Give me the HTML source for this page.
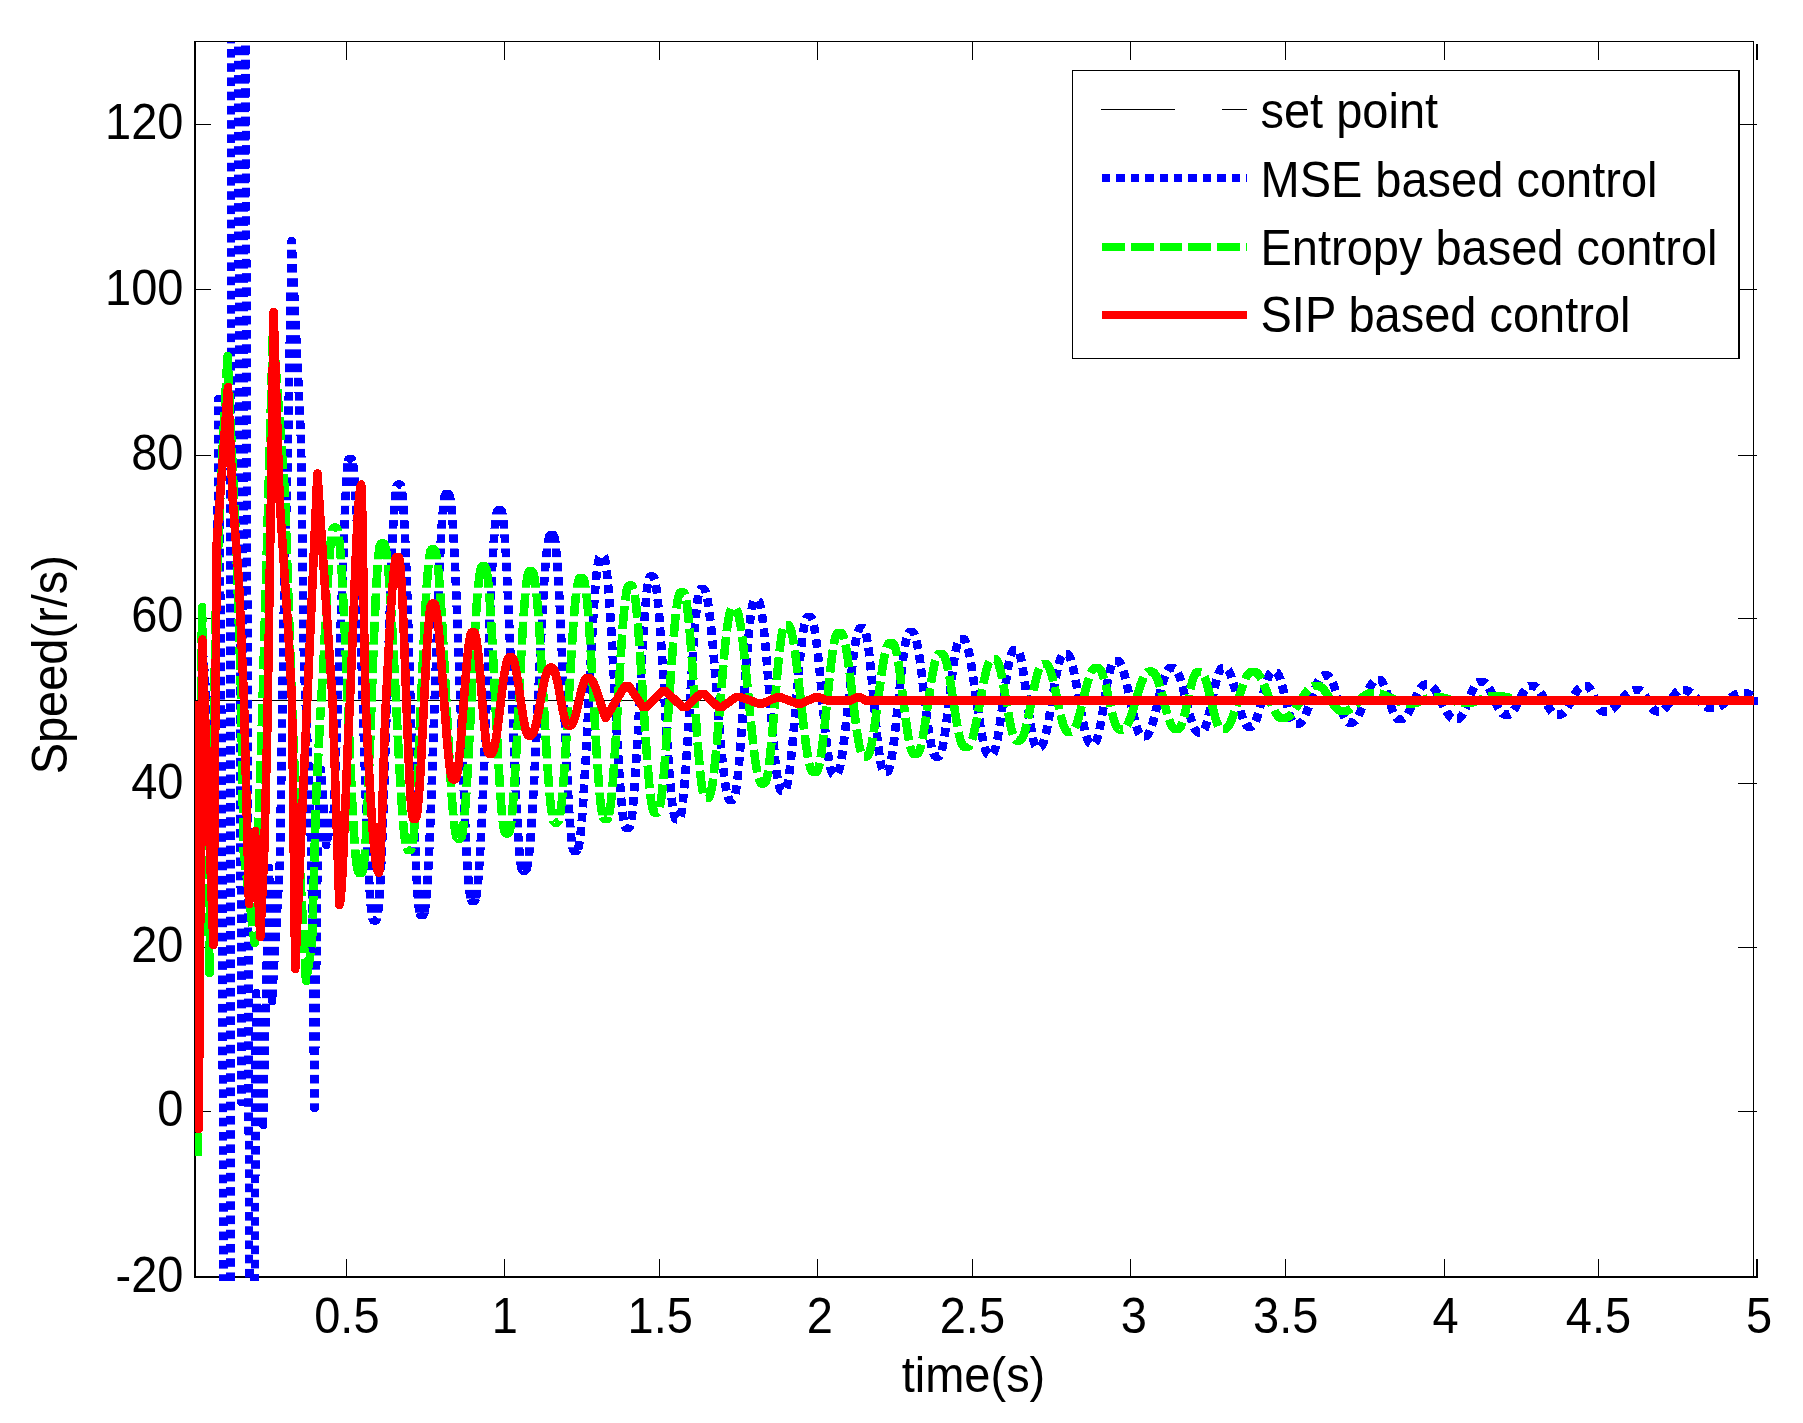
<!DOCTYPE html>
<html lang="en"><head><meta charset="utf-8"><title>Speed response</title>
<style>html,body{margin:0;padding:0;background:#fff}svg{display:block}</style></head>
<body>
<svg width="1803" height="1423" viewBox="0 0 1803 1423">
<defs><clipPath id="ax"><rect x="195" y="42" width="1559" height="1239"/></clipPath>
<clipPath id="bh"><rect x="0" y="7.92" width="1803" height="8.6"/><rect x="0" y="22.15" width="1803" height="8.6"/><rect x="0" y="36.37" width="1803" height="8.6"/><rect x="0" y="50.60" width="1803" height="8.6"/><rect x="0" y="64.83" width="1803" height="8.6"/><rect x="0" y="79.05" width="1803" height="8.6"/><rect x="0" y="93.28" width="1803" height="8.6"/><rect x="0" y="107.50" width="1803" height="8.6"/><rect x="0" y="121.73" width="1803" height="8.6"/><rect x="0" y="135.96" width="1803" height="8.6"/><rect x="0" y="150.18" width="1803" height="8.6"/><rect x="0" y="164.41" width="1803" height="8.6"/><rect x="0" y="178.63" width="1803" height="8.6"/><rect x="0" y="192.86" width="1803" height="8.6"/><rect x="0" y="207.09" width="1803" height="8.6"/><rect x="0" y="221.31" width="1803" height="8.6"/><rect x="0" y="235.54" width="1803" height="8.6"/><rect x="0" y="249.76" width="1803" height="8.6"/><rect x="0" y="263.99" width="1803" height="8.6"/><rect x="0" y="278.22" width="1803" height="8.6"/><rect x="0" y="292.44" width="1803" height="8.6"/><rect x="0" y="306.67" width="1803" height="8.6"/><rect x="0" y="320.89" width="1803" height="8.6"/><rect x="0" y="335.12" width="1803" height="8.6"/><rect x="0" y="349.35" width="1803" height="8.6"/><rect x="0" y="363.57" width="1803" height="8.6"/><rect x="0" y="377.80" width="1803" height="8.6"/><rect x="0" y="392.02" width="1803" height="8.6"/><rect x="0" y="406.25" width="1803" height="8.6"/><rect x="0" y="420.48" width="1803" height="8.6"/><rect x="0" y="434.70" width="1803" height="8.6"/><rect x="0" y="448.93" width="1803" height="8.6"/><rect x="0" y="463.15" width="1803" height="8.6"/><rect x="0" y="477.38" width="1803" height="8.6"/><rect x="0" y="491.61" width="1803" height="8.6"/><rect x="0" y="505.83" width="1803" height="8.6"/><rect x="0" y="520.06" width="1803" height="8.6"/><rect x="0" y="534.28" width="1803" height="8.6"/><rect x="0" y="548.51" width="1803" height="8.6"/><rect x="0" y="562.74" width="1803" height="8.6"/><rect x="0" y="576.96" width="1803" height="8.6"/><rect x="0" y="591.19" width="1803" height="8.6"/><rect x="0" y="605.41" width="1803" height="8.6"/><rect x="0" y="619.64" width="1803" height="8.6"/><rect x="0" y="633.87" width="1803" height="8.6"/><rect x="0" y="648.09" width="1803" height="8.6"/><rect x="0" y="662.32" width="1803" height="8.6"/><rect x="0" y="676.54" width="1803" height="8.6"/><rect x="0" y="690.77" width="1803" height="8.6"/><rect x="0" y="705.00" width="1803" height="8.6"/><rect x="0" y="719.22" width="1803" height="8.6"/><rect x="0" y="733.45" width="1803" height="8.6"/><rect x="0" y="747.67" width="1803" height="8.6"/><rect x="0" y="761.90" width="1803" height="8.6"/><rect x="0" y="776.13" width="1803" height="8.6"/><rect x="0" y="790.35" width="1803" height="8.6"/><rect x="0" y="804.58" width="1803" height="8.6"/><rect x="0" y="818.80" width="1803" height="8.6"/><rect x="0" y="833.03" width="1803" height="8.6"/><rect x="0" y="847.26" width="1803" height="8.6"/><rect x="0" y="861.48" width="1803" height="8.6"/><rect x="0" y="875.71" width="1803" height="8.6"/><rect x="0" y="889.93" width="1803" height="8.6"/><rect x="0" y="904.16" width="1803" height="8.6"/><rect x="0" y="918.39" width="1803" height="8.6"/><rect x="0" y="932.61" width="1803" height="8.6"/><rect x="0" y="946.84" width="1803" height="8.6"/><rect x="0" y="961.06" width="1803" height="8.6"/><rect x="0" y="975.29" width="1803" height="8.6"/><rect x="0" y="989.52" width="1803" height="8.6"/><rect x="0" y="1003.74" width="1803" height="8.6"/><rect x="0" y="1017.97" width="1803" height="8.6"/><rect x="0" y="1032.19" width="1803" height="8.6"/><rect x="0" y="1046.42" width="1803" height="8.6"/><rect x="0" y="1060.65" width="1803" height="8.6"/><rect x="0" y="1074.87" width="1803" height="8.6"/><rect x="0" y="1089.10" width="1803" height="8.6"/><rect x="0" y="1103.32" width="1803" height="8.6"/><rect x="0" y="1117.55" width="1803" height="8.6"/><rect x="0" y="1131.78" width="1803" height="8.6"/><rect x="0" y="1146.00" width="1803" height="8.6"/><rect x="0" y="1160.23" width="1803" height="8.6"/><rect x="0" y="1174.45" width="1803" height="8.6"/><rect x="0" y="1188.68" width="1803" height="8.6"/><rect x="0" y="1202.91" width="1803" height="8.6"/><rect x="0" y="1217.13" width="1803" height="8.6"/><rect x="0" y="1231.36" width="1803" height="8.6"/><rect x="0" y="1245.58" width="1803" height="8.6"/><rect x="0" y="1259.81" width="1803" height="8.6"/><rect x="0" y="1274.04" width="1803" height="8.6"/><rect x="0" y="1288.26" width="1803" height="8.6"/></clipPath>
<clipPath id="gh"><rect x="0" y="-4.05" width="1803" height="22.8"/><rect x="0" y="24.40" width="1803" height="22.8"/><rect x="0" y="52.85" width="1803" height="22.8"/><rect x="0" y="81.30" width="1803" height="22.8"/><rect x="0" y="109.75" width="1803" height="22.8"/><rect x="0" y="138.20" width="1803" height="22.8"/><rect x="0" y="166.65" width="1803" height="22.8"/><rect x="0" y="195.10" width="1803" height="22.8"/><rect x="0" y="223.55" width="1803" height="22.8"/><rect x="0" y="252.00" width="1803" height="22.8"/><rect x="0" y="280.45" width="1803" height="22.8"/><rect x="0" y="308.90" width="1803" height="22.8"/><rect x="0" y="337.35" width="1803" height="22.8"/><rect x="0" y="365.80" width="1803" height="22.8"/><rect x="0" y="394.25" width="1803" height="22.8"/><rect x="0" y="422.70" width="1803" height="22.8"/><rect x="0" y="451.15" width="1803" height="22.8"/><rect x="0" y="479.60" width="1803" height="22.8"/><rect x="0" y="508.05" width="1803" height="22.8"/><rect x="0" y="536.50" width="1803" height="22.8"/><rect x="0" y="564.95" width="1803" height="22.8"/><rect x="0" y="593.40" width="1803" height="22.8"/><rect x="0" y="621.85" width="1803" height="22.8"/><rect x="0" y="650.30" width="1803" height="22.8"/><rect x="0" y="678.75" width="1803" height="22.8"/><rect x="0" y="707.20" width="1803" height="22.8"/><rect x="0" y="735.65" width="1803" height="22.8"/><rect x="0" y="764.10" width="1803" height="22.8"/><rect x="0" y="792.55" width="1803" height="22.8"/><rect x="0" y="821.00" width="1803" height="22.8"/><rect x="0" y="849.45" width="1803" height="22.8"/><rect x="0" y="877.90" width="1803" height="22.8"/><rect x="0" y="906.35" width="1803" height="22.8"/><rect x="0" y="934.80" width="1803" height="22.8"/><rect x="0" y="963.25" width="1803" height="22.8"/><rect x="0" y="991.70" width="1803" height="22.8"/><rect x="0" y="1020.15" width="1803" height="22.8"/><rect x="0" y="1048.60" width="1803" height="22.8"/><rect x="0" y="1077.05" width="1803" height="22.8"/><rect x="0" y="1105.50" width="1803" height="22.8"/><rect x="0" y="1133.95" width="1803" height="22.8"/><rect x="0" y="1162.40" width="1803" height="22.8"/><rect x="0" y="1190.85" width="1803" height="22.8"/><rect x="0" y="1219.30" width="1803" height="22.8"/><rect x="0" y="1247.75" width="1803" height="22.8"/><rect x="0" y="1276.20" width="1803" height="22.8"/></clipPath>
</defs>
<rect x="0" y="0" width="1803" height="1423" fill="#fff"/>
<g stroke="#000" fill="none" shape-rendering="crispEdges">
<line x1="195" y1="41" x2="195" y2="1278" stroke-width="2"/>
<line x1="194" y1="41.5" x2="1754" y2="41.5" stroke-width="1"/>
<line x1="1753.5" y1="41" x2="1753.5" y2="1278" stroke-width="1"/>
<line x1="194" y1="1277" x2="1758" y2="1277" stroke-width="2"/>
<line x1="346.5" y1="1259" x2="346.5" y2="1277" stroke-width="1"/>
<line x1="346.5" y1="42" x2="346.5" y2="60" stroke-width="1"/>
<line x1="504.5" y1="1259" x2="504.5" y2="1277" stroke-width="1"/>
<line x1="504.5" y1="42" x2="504.5" y2="60" stroke-width="1"/>
<line x1="659.5" y1="1259" x2="659.5" y2="1277" stroke-width="1"/>
<line x1="659.5" y1="42" x2="659.5" y2="60" stroke-width="1"/>
<line x1="817.5" y1="1259" x2="817.5" y2="1277" stroke-width="1"/>
<line x1="817.5" y1="42" x2="817.5" y2="60" stroke-width="1"/>
<line x1="972.5" y1="1259" x2="972.5" y2="1277" stroke-width="1"/>
<line x1="972.5" y1="42" x2="972.5" y2="60" stroke-width="1"/>
<line x1="1130.5" y1="1259" x2="1130.5" y2="1277" stroke-width="1"/>
<line x1="1130.5" y1="42" x2="1130.5" y2="60" stroke-width="1"/>
<line x1="1285.5" y1="1259" x2="1285.5" y2="1277" stroke-width="1"/>
<line x1="1285.5" y1="42" x2="1285.5" y2="60" stroke-width="1"/>
<line x1="1444.5" y1="1259" x2="1444.5" y2="1277" stroke-width="1"/>
<line x1="1444.5" y1="42" x2="1444.5" y2="60" stroke-width="1"/>
<line x1="1598.5" y1="1259" x2="1598.5" y2="1277" stroke-width="1"/>
<line x1="1598.5" y1="42" x2="1598.5" y2="60" stroke-width="1"/>
<line x1="1757" y1="1259" x2="1757" y2="1277" stroke-width="2"/>
<line x1="1757" y1="44" x2="1757" y2="60" stroke-width="2"/>
<line x1="196" y1="124.5" x2="211" y2="124.5" stroke-width="1"/>
<line x1="1738" y1="124.5" x2="1757" y2="124.5" stroke-width="1"/>
<line x1="196" y1="289.5" x2="211" y2="289.5" stroke-width="1"/>
<line x1="1738" y1="289.5" x2="1757" y2="289.5" stroke-width="1"/>
<line x1="196" y1="455.5" x2="211" y2="455.5" stroke-width="1"/>
<line x1="1738" y1="455.5" x2="1757" y2="455.5" stroke-width="1"/>
<line x1="196" y1="618.5" x2="211" y2="618.5" stroke-width="1"/>
<line x1="1738" y1="618.5" x2="1757" y2="618.5" stroke-width="1"/>
<line x1="196" y1="783.5" x2="211" y2="783.5" stroke-width="1"/>
<line x1="1738" y1="783.5" x2="1757" y2="783.5" stroke-width="1"/>
<line x1="196" y1="947.5" x2="211" y2="947.5" stroke-width="1"/>
<line x1="1738" y1="947.5" x2="1757" y2="947.5" stroke-width="1"/>
<line x1="196" y1="1111.5" x2="211" y2="1111.5" stroke-width="1"/>
<line x1="1738" y1="1111.5" x2="1757" y2="1111.5" stroke-width="1"/>
</g>
<g clip-path="url(#ax)" fill="none" stroke-linejoin="round" shape-rendering="crispEdges">
<line x1="195" y1="700.5" x2="1757" y2="700.5" stroke="#000" stroke-width="1"/>
<path transform="translate(0,0.2)" d="M199.0,1074.8 L202.0,639.8 L211.0,759.8 L216.5,699.8 L218.5,398.8 L222.0,799.8 L223.5,1299.8" stroke="#0000ff" stroke-width="8.6" clip-path="url(#bh)"/>
<path d="M202.0,642.5 L202.0,640.0 L202.2,642.5 M210.8,757.5 L211.0,760.0 L211.2,757.5 M218.5,401.5 L218.5,399.0 L218.5,401.5" stroke="#0000ff" stroke-width="8.6"/>
<path transform="translate(0,-1.6)" d="M230.5,1301.6 L231.0,21.6" stroke="#0000ff" stroke-width="8.6" clip-path="url(#bh)"/>
<path transform="translate(0,-4.0)" d="M238.0,24.0 L241.5,1106.0 L244.8,24.0" stroke="#0000ff" stroke-width="8.6" clip-path="url(#bh)"/>
<path d="M241.5,1099.5 L241.5,1102.0 L241.5,1099.5" stroke="#0000ff" stroke-width="8.6"/>
<path transform="translate(0,-5.1)" d="M245.5,25.1 L249.3,1305.1" stroke="#0000ff" stroke-width="8.6" clip-path="url(#bh)"/>
<path d="M254.7,1300.0 L256.0,993.0 L263.0,1125.0 L269.0,868.0 L272.0,1001.0 L280.0,860.0 L284.0,600.0 L288.0,440.0 L291.7,241.0 L301.0,440.0 L304.0,664.0 L308.0,757.0 L311.3,850.0 L314.5,1108.0 L317.6,850.0 L321.0,770.0 L326.0,845.0 L334.0,811.0 L340.0,640.0 L341.0,617.9 L341.9,592.9 L342.9,566.4 L343.9,539.9 L344.8,514.8 L345.8,492.8 L346.8,475.2 L347.7,463.5 L348.7,459.3 L349.7,459.3 L350.7,459.3 L351.7,459.3 L352.7,461.6 L353.7,468.6 L354.6,480.1 L355.6,495.9 L356.6,515.6 L357.6,538.9 L358.5,565.2 L359.5,594.0 L360.5,624.9 L361.5,657.0 L362.4,689.8 L363.4,722.6 L364.4,754.7 L365.4,785.6 L366.4,814.4 L367.3,840.7 L368.3,864.0 L369.3,883.7 L370.3,899.5 L371.2,911.0 L372.2,918.0 L373.2,920.3 L374.2,920.3 L375.2,920.3 L376.2,920.3 L377.2,917.9 L378.2,910.6 L379.2,898.7 L380.3,882.4 L381.3,862.1 L382.3,838.3 L383.3,811.4 L384.3,782.0 L385.3,750.9 L386.3,718.7 L387.4,686.2 L388.4,654.0 L389.4,622.9 L390.4,593.5 L391.4,566.6 L392.4,542.8 L393.4,522.5 L394.5,506.2 L395.5,494.3 L396.5,487.0 L397.5,484.6 L398.5,484.6 L399.5,484.6 L400.5,484.6 L401.5,487.2 L402.5,495.1 L403.5,508.1 L404.5,525.7 L405.5,547.6 L406.5,573.3 L407.5,602.1 L408.5,633.3 L409.5,666.1 L410.4,699.8 L411.4,733.5 L412.4,766.3 L413.4,797.5 L414.4,826.3 L415.4,852.0 L416.4,873.9 L417.4,891.5 L418.4,904.5 L419.4,912.4 L420.4,915.0 L421.4,915.0 L422.4,915.0 L423.4,915.0 L424.4,912.9 L425.4,906.5 L426.4,896.0 L427.5,881.6 L428.5,863.6 L429.5,842.3 L430.5,818.3 L431.5,791.9 L432.5,763.8 L433.5,734.5 L434.5,704.5 L435.6,674.5 L436.6,645.2 L437.6,617.1 L438.6,590.7 L439.6,566.7 L440.6,545.4 L441.6,527.4 L442.7,513.0 L443.7,502.5 L444.7,496.1 L445.7,494.0 L446.7,494.0 L447.7,494.0 L448.7,494.0 L449.7,495.9 L450.7,501.5 L451.7,510.8 L452.7,523.6 L453.7,539.6 L454.7,558.6 L455.7,580.1 L456.7,603.9 L457.7,629.4 L458.7,656.1 L459.7,683.6 L460.8,711.4 L461.8,738.9 L462.8,765.6 L463.8,791.1 L464.8,814.9 L465.8,836.4 L466.8,855.4 L467.8,871.4 L468.8,884.2 L469.8,893.5 L470.8,899.1 L471.8,901.0 L472.8,901.0 L473.8,901.0 L474.8,901.0 L475.8,899.2 L476.8,893.8 L477.8,884.8 L478.8,872.5 L479.8,857.2 L480.9,838.9 L481.9,818.2 L482.9,795.4 L483.9,771.0 L484.9,745.3 L485.9,718.8 L486.9,692.2 L487.9,665.7 L488.9,640.0 L489.9,615.6 L490.9,592.8 L491.9,572.1 L493.0,553.8 L494.0,538.5 L495.0,526.2 L496.0,517.2 L497.0,511.8 L498.0,510.0 L499.0,510.0 L500.0,510.0 L501.0,510.0 L502.0,511.8 L503.0,517.3 L503.9,526.3 L504.9,538.6 L505.9,554.0 L506.9,572.2 L507.8,592.8 L508.8,615.4 L509.8,639.5 L510.8,664.6 L511.8,690.2 L512.7,715.9 L513.7,741.0 L514.7,765.1 L515.7,787.7 L516.6,808.3 L517.6,826.5 L518.6,841.9 L519.6,854.2 L520.5,863.2 L521.5,868.7 L522.5,870.5 L523.5,870.5 L524.5,870.5 L525.5,870.5 L526.5,869.2 L527.5,865.2 L528.5,858.7 L529.5,849.8 L530.5,838.5 L531.5,825.0 L532.4,809.7 L533.4,792.6 L534.4,774.2 L535.4,754.6 L536.4,734.2 L537.4,713.3 L538.4,692.2 L539.4,671.3 L540.4,650.9 L541.4,631.3 L542.4,612.9 L543.4,595.8 L544.3,580.5 L545.3,567.0 L546.3,555.7 L547.3,546.8 L548.3,540.3 L549.3,536.3 L550.3,535.0 L551.3,535.0 L552.3,535.0 L553.3,535.0 L554.3,536.8 L555.3,542.0 L556.2,550.6 L557.2,562.5 L558.2,577.2 L559.2,594.5 L560.2,614.0 L561.1,635.3 L562.1,657.8 L563.1,681.2 L564.1,704.8 L565.1,728.2 L566.1,750.7 L567.0,772.0 L568.0,791.5 L569.0,808.8 L570.0,823.5 L571.0,835.4 L571.9,844.0 L572.9,849.2 L573.9,851.0 L574.9,851.0 L575.9,851.0 L576.9,851.0 L577.9,849.6" stroke="#0000ff" stroke-width="8.6" clip-path="url(#bh)"/>
<path d="M256.0,995.5 L256.0,993.0 L256.1,995.5 M262.9,1122.5 L263.0,1125.0 L263.1,1122.5 M268.9,870.5 L269.0,868.0 L269.1,870.5 M271.9,998.5 L272.0,1001.0 L272.1,998.5 M291.7,243.5 L291.7,241.0 L291.8,243.5 M314.5,1105.5 L314.5,1108.0 L314.5,1105.5 M320.9,772.5 L321.0,770.0 L321.2,772.5 M325.8,842.5 L326.0,845.0 L326.6,842.6 M348.1,461.7 L348.7,459.3 L349.7,459.3 L350.7,459.3 L351.7,459.3 L352.7,461.6 M372.2,918.0 L373.2,920.3 L374.2,920.3 L375.2,920.3 L376.2,920.3 L377.2,918.0 M396.5,486.9 L397.5,484.6 L398.5,484.6 L399.5,484.6 L400.5,484.6 L401.4,486.9 M419.5,912.7 L420.4,915.0 L421.4,915.0 L422.4,915.0 L423.4,915.0 L424.4,912.9 L424.4,912.7 M444.7,496.3 L444.7,496.1 L445.7,494.0 L446.7,494.0 L447.7,494.0 L448.7,494.0 L449.7,495.9 L449.8,496.2 M470.7,898.8 L470.8,899.1 L471.8,901.0 L472.8,901.0 L473.8,901.0 L474.8,901.0 L475.8,899.2 L475.9,898.8 M496.9,512.2 L497.0,511.8 L498.0,510.0 L499.0,510.0 L500.0,510.0 L501.0,510.0 L502.0,511.8 L502.1,512.2 M521.4,868.3 L521.5,868.7 L522.5,870.5 L523.5,870.5 L524.5,870.5 L525.5,870.5 L526.5,869.2 L526.7,868.4 M549.1,537.1 L549.3,536.3 L550.3,535.0 L551.3,535.0 L552.3,535.0 L553.3,535.0 L554.3,536.8 L554.4,537.2 M572.8,848.8 L572.9,849.2 L573.9,851.0 L574.9,851.0 L575.9,851.0 L576.9,851.0 L577.9,849.6" stroke="#0000ff" stroke-width="8.6"/>
<path d="M577.9,849.6 L578.9,845.5 L580.0,838.8 L581.0,829.5 L582.0,817.9 L583.0,804.2 L584.0,788.6 L585.0,771.4 L586.1,752.9 L587.1,733.5 L588.1,713.6 L589.1,693.4 L590.1,673.5 L591.1,654.1 L592.2,635.6 L593.2,618.4 L594.2,602.8 L595.2,589.1 L596.2,577.5 L597.2,568.2 L598.3,561.5 L599.3,557.4 L600.3,556.0 L601.3,556.0 L602.3,556.0 L603.3,556.0 L604.3,557.3 L605.3,561.0 L606.3,567.3 L607.2,575.8 L608.2,586.5 L609.2,599.2 L610.2,613.6 L611.2,629.4 L612.2,646.5 L613.2,664.3 L614.2,682.7 L615.1,701.3 L616.1,719.7 L617.1,737.5 L618.1,754.6 L619.1,770.4 L620.1,784.8 L621.1,797.5 L622.1,808.2 L623.0,816.7 L624.0,823.0 L625.0,826.7 L626.0,828.0 L627.0,828.0 L628.0,828.0 L629.0,828.0 L630.0,826.6 L631.0,822.4 L632.0,815.6 L633.0,806.2 L634.0,794.4 L635.0,780.7 L636.0,765.1 L637.0,748.2 L638.0,730.3 L639.0,711.7 L640.1,692.9 L641.1,674.3 L642.1,656.4 L643.1,639.5 L644.1,623.9 L645.1,610.2 L646.1,598.4 L647.1,589.0 L648.1,582.2 L649.1,578.0 L650.1,576.6 L651.1,576.6 L652.1,576.6 L653.1,576.6 L654.1,577.7 L655.1,581.1 L656.1,586.6 L657.1,594.3 L658.1,603.8 L659.1,615.1 L660.1,628.0 L661.1,642.1 L662.1,657.3 L663.1,673.3 L664.1,689.7 L665.0,706.2 L666.0,722.6 L667.0,738.6 L668.0,753.8 L669.0,767.9 L670.0,780.8 L671.0,792.1 L672.0,801.6 L673.0,809.3 L674.0,814.8 L675.0,818.2 L676.0,819.3 L677.0,819.3 L678.0,819.3 L679.0,819.3 L680.0,818.1 L681.0,814.6 L682.0,808.9 L682.9,801.0 L683.9,791.2 L684.9,779.6 L685.9,766.4 L686.9,752.0 L687.9,736.6 L688.9,720.5 L689.9,704.1 L690.8,687.8 L691.8,671.7 L692.8,656.3 L693.8,641.9 L694.8,628.7 L695.8,617.1 L696.8,607.3 L697.7,599.4 L698.7,593.7 L699.7,590.2 L700.7,589.0 L701.7,589.0 L702.7,589.0 L703.7,589.0 L704.7,589.8 L705.7,592.1 L706.7,595.9 L707.7,601.1 L708.7,607.7 L709.7,615.5 L710.8,624.5 L711.8,634.6 L712.8,645.5 L713.8,657.1 L714.8,669.3 L715.8,681.8 L716.8,694.5 L717.8,707.2 L718.8,719.7 L719.8,731.9 L720.8,743.5 L721.8,754.4 L722.8,764.5 L723.9,773.5 L724.9,781.3 L725.9,787.9 L726.9,793.1 L727.9,796.9 L728.9,799.2 L729.9,800.0 L730.9,800.0 L731.9,800.0 L732.9,800.0 L733.9,799.0 L734.9,795.9 L735.9,791.0 L736.9,784.1 L737.9,775.6 L738.8,765.5 L739.8,754.1 L740.8,741.5 L741.8,728.2 L742.8,714.2 L743.8,700.0 L744.8,685.8 L745.8,671.8 L746.8,658.5 L747.8,645.9 L748.8,634.5 L749.7,624.4 L750.7,615.9 L751.7,609.0 L752.7,604.1 L753.7,601.0 L754.7,600.0 L755.7,600.0 L756.7,600.0 L757.7,600.0 L758.7,600.8 L759.7,603.3 L760.7,607.3 L761.7,612.8 L762.7,619.7 L763.7,628.0 L764.6,637.4 L765.6,647.8 L766.6,659.0 L767.6,670.8 L768.6,683.0 L769.6,695.5 L770.6,708.0 L771.6,720.2 L772.6,732.0 L773.6,743.2 L774.6,753.6 L775.5,763.0 L776.5,771.3 L777.5,778.2 L778.5,783.7 L779.5,787.7 L780.5,790.2 L781.5,791.0 L782.5,791.0 L783.5,791.0 L784.5,791.0 L785.5,790.2 L786.5,787.8 L787.5,783.8 L788.5,778.3 L789.5,771.5 L790.5,763.4 L791.5,754.2 L792.5,744.0 L793.5,733.1 L794.5,721.7 L795.5,709.9 L796.5,698.1 L797.5,686.3 L798.5,674.9 L799.5,664.0 L800.5,653.8 L801.5,644.6 L802.5,636.5 L803.5,629.7 L804.5,624.2 L805.5,620.2 L806.5,617.8 L807.5,617.0 L808.5,617.0 L809.5,617.0 L810.5,617.0 L811.5,617.7 L812.5,619.9 L813.5,623.5 L814.5,628.5 L815.5,634.7 L816.5,642.0 L817.5,650.3 L818.5,659.5 L819.5,669.3 L820.5,679.7 L821.5,690.3 L822.4,701.1 L823.4,711.7 L824.4,722.1 L825.4,731.9 L826.4,741.1 L827.4,749.4 L828.4,756.7 L829.4,762.9 L830.4,767.9 L831.4,771.5 L832.4,773.7 L833.4,774.4 L834.4,774.4 L835.4,774.4 L836.4,774.4 L837.4,773.8 L838.4,771.9 L839.4,768.8 L840.4,764.6 L841.4,759.3 L842.4,753.0 L843.4,745.8 L844.4,737.8 L845.4,729.2 L846.4,720.1 L847.4,710.8 L848.4,701.2 L849.4,691.6 L850.4,682.3 L851.4,673.2 L852.4,664.6 L853.4,656.6 L854.4,649.4 L855.4,643.1 L856.4,637.8 L857.4,633.6 L858.4,630.5 L859.4,628.6 L860.4,628.0 L861.4,628.0 L862.4,628.0 L863.4,628.0 L864.4,628.8 L865.4,631.2 L866.3,635.1 L867.3,640.5 L868.3,647.2 L869.3,655.1 L870.3,664.0 L871.2,673.7 L872.2,684.0 L873.2,694.6 L874.2,705.4 L875.2,716.0 L876.2,726.3 L877.1,736.0 L878.1,744.9 L879.1,752.8 L880.1,759.5 L881.1,764.9 L882.0,768.8 L883.0,771.2 L884.0,772.0 L885.0,772.0 L886.0,772.0 L887.0,772.0 L888.0,771.3 L889.0,769.2 L890.1,765.7 L891.1,760.9 L892.1,754.9 L893.1,747.8 L894.2,739.8 L895.2,731.1 L896.2,721.7 L897.2,712.0 L898.2,702.0 L899.3,692.0 L900.3,682.3 L901.3,672.9 L902.3,664.2 L903.4,656.2 L904.4,649.1 L905.4,643.1 L906.4,638.3 L907.5,634.8 L908.5,632.7 L909.5,632.0 L910.5,632.0 L911.5,632.0 L912.5,632.0 L913.5,632.6 L914.5,634.3 L915.5,637.1 L916.5,641.1 L917.5,646.0 L918.6,651.7 L919.6,658.3 L920.6,665.6 L921.6,673.4 L922.6,681.5 L923.6,690.0 L924.6,698.4 L925.6,706.9 L926.6,715.0 L927.6,722.8 L928.6,730.1 L929.6,736.7 L930.7,742.4 L931.7,747.3 L932.7,751.3 L933.7,754.1 L934.7,755.8 L935.7,756.4 L936.7,756.4 L937.7,756.4 L938.7,756.4 L939.7,755.8 L940.7,754.0 L941.6,751.1 L942.6,747.1 L943.6,742.0 L944.6,736.1 L945.5,729.4 L946.5,722.0 L947.5,714.2 L948.5,706.0 L949.5,697.6 L950.4,689.2 L951.4,681.0 L952.4,673.2 L953.4,665.8 L954.3,659.1 L955.3,653.2 L956.3,648.1 L957.3,644.1 L958.2,641.2 L959.2,639.4 L960.2,638.8 L961.2,638.8 L962.2,638.8 L963.2,638.8 L964.2,639.2 L965.2,640.5 L966.2,642.6 L967.1,645.4 L968.1,649.1 L969.1,653.4 L970.1,658.3 L971.1,663.8 L972.1,669.8 L973.0,676.2 L974.0,682.9 L975.0,689.8 L976.0,696.8 L977.0,703.7 L978.0,710.6 L979.0,717.3 L979.9,723.7 L980.9,729.7 L981.9,735.2 L982.9,740.1 L983.9,744.4 L984.9,748.1 L985.8,750.9 L986.8,753.0 L987.8,754.3 L988.8,754.7 L989.8,754.7 L990.8,754.7 L991.8,754.7 L992.8,754.2 L993.8,752.6 L994.8,750.0 L995.9,746.4 L996.9,741.9 L997.9,736.6 L998.9,730.7 L999.9,724.1 L1000.9,717.1 L1001.9,709.8 L1003.0,702.4 L1004.0,694.9 L1005.0,687.6 L1006.0,680.6 L1007.0,674.0 L1008.0,668.1 L1009.0,662.8 L1010.0,658.3 L1011.1,654.7 L1012.1,652.1 L1013.1,650.5 L1014.1,650.0 L1015.1,650.0 L1016.1,650.0 L1017.1,650.0 L1018.1,650.6 L1019.1,652.4 L1020.1,655.3 L1021.1,659.3 L1022.1,664.2 L1023.0,670.0 L1024.0,676.5 L1025.0,683.6 L1026.0,691.0 L1027.0,698.6 L1028.0,706.2 L1029.0,713.6 L1030.0,720.7 L1031.0,727.2 L1032.0,733.0 L1032.9,737.9 L1033.9,741.9 L1034.9,744.8 L1035.9,746.6 L1036.9,747.2 L1037.9,747.2 L1038.9,747.2 L1039.9,747.2 L1040.9,746.8 L1041.9,745.6 L1042.9,743.7 L1043.9,741.0 L1044.9,737.6 L1045.9,733.6 L1046.9,729.0 L1047.9,723.9 L1048.9,718.4 L1049.9,712.7 L1050.9,706.7 L1051.9,700.6 L1052.9,694.5 L1053.9,688.5 L1054.9,682.8 L1055.9,677.3 L1056.9,672.2 L1057.9,667.6 L1058.9,663.6 L1059.9,660.2 L1060.9,657.5 L1061.9,655.6 L1062.9,654.4 L1063.9,654.0 L1064.9,654.0 L1065.9,654.0 L1066.9,654.0 L1067.9,654.4 L1068.9,655.5 L1069.9,657.4 L1070.9,660.0 L1071.9,663.3 L1072.9,667.2 L1073.9,671.6 L1074.9,676.4 L1075.9,681.7 L1076.9,687.3 L1077.9,693.0 L1078.9,698.9 L1079.9,704.8 L1080.9,710.5 L1081.9,716.1 L1082.9,721.3 L1083.9,726.2 L1084.9,730.6 L1085.9,734.5 L1086.9,737.8 L1087.9,740.4 L1088.9,742.3 L1089.9,743.4 L1090.9,743.8 L1091.9,743.8 L1092.9,743.8 L1093.9,743.8 L1094.9,743.3 L1095.9,742.0 L1096.8,739.7 L1097.8,736.6 L1098.8,732.7 L1099.8,728.2 L1100.8,723.1 L1101.7,717.5 L1102.7,711.6 L1103.7,705.5 L1104.7,699.3 L1105.7,693.2 L1106.7,687.3 L1107.6,681.7 L1108.6,676.6 L1109.6,672.1 L1110.6,668.2 L1111.6,665.1 L1112.5,662.8 L1113.5,661.5 L1114.5,661.0 L1115.5,661.0 L1116.5,661.0 L1117.5,661.0 L1118.5,661.3 L1119.5,662.2 L1120.5,663.6 L1121.5,665.7 L1122.5,668.2 L1123.5,671.2 L1124.4,674.6 L1125.4,678.5 L1126.4,682.6 L1127.4,687.0 L1128.4,691.6 L1129.4,696.2 L1130.4,701.0 L1131.4,705.6 L1132.4,710.2 L1133.4,714.6 L1134.4,718.7 L1135.4,722.6 L1136.3,726.0 L1137.3,729.0 L1138.3,731.5 L1139.3,733.6 L1140.3,735.0 L1141.3,735.9 L1142.3,736.2 L1143.3,736.2 L1144.3,736.2 L1145.3,736.2 L1146.3,735.9 L1147.3,735.1 L1148.3,733.8 L1149.3,732.0 L1150.3,729.7 L1151.3,727.0 L1152.4,723.8 L1153.4,720.4 L1154.4,716.6 L1155.4,712.6 L1156.4,708.5 L1157.4,704.2 L1158.4,700.0 L1159.4,695.7 L1160.4,691.6 L1161.4,687.6 L1162.4,683.8 L1163.4,680.4 L1164.5,677.2 L1165.5,674.5 L1166.5,672.2 L1167.5,670.4 L1168.5,669.1 L1169.5,668.3 L1170.5,668.0 L1171.5,668.0 L1172.5,668.0 L1173.5,668.0 L1174.5,668.3 L1175.5,669.0 L1176.5,670.3 L1177.5,672.0 L1178.5,674.1 L1179.5,676.7 L1180.5,679.7 L1181.5,682.9 L1182.5,686.5 L1183.5,690.2 L1184.5,694.2 L1185.5,698.2 L1186.5,702.2 L1187.5,706.2 L1188.5,710.2 L1189.5,713.9 L1190.5,717.5 L1191.5,720.7 L1192.5,723.7 L1193.5,726.3 L1194.5,728.4 L1195.5,730.1 L1196.5,731.4 L1197.5,732.1 L1198.5,732.4 L1199.5,732.4 L1200.5,732.4 L1201.5,732.4 L1202.5,732.0 L1203.5,731.0 L1204.5,729.2 L1205.5,726.8 L1206.5,723.8 L1207.5,720.3 L1208.5,716.3 L1209.5,712.0 L1210.5,707.4 L1211.5,702.6 L1212.5,697.8 L1213.5,693.0 L1214.5,688.4 L1215.5,684.1 L1216.5,680.1 L1217.5,676.6 L1218.5,673.6 L1219.5,671.2 L1220.5,669.4 L1221.5,668.4 L1222.5,668.0 L1223.5,668.0 L1224.5,668.0 L1225.5,668.0 L1226.5,668.3 L1227.5,669.1 L1228.5,670.4 L1229.5,672.3 L1230.5,674.6 L1231.5,677.3 L1232.5,680.4 L1233.5,683.8 L1234.5,687.5 L1235.5,691.3 L1236.5,695.3 L1237.4,699.3 L1238.4,703.3 L1239.4,707.1 L1240.4,710.8 L1241.4,714.2 L1242.4,717.3 L1243.4,720.0 L1244.4,722.3 L1245.4,724.2 L1246.4,725.5 L1247.4,726.3 L1248.4,726.6 L1249.4,726.6 L1250.4,726.6 L1251.4,726.6 L1252.4,726.3 L1253.4,725.4 L1254.4,723.9 L1255.4,721.9 L1256.4,719.3 L1257.4,716.3 L1258.4,713.0 L1259.4,709.3 L1260.4,705.4 L1261.4,701.3 L1262.5,697.3 L1263.5,693.2 L1264.5,689.3 L1265.5,685.6 L1266.5,682.3 L1267.5,679.3 L1268.5,676.7 L1269.5,674.7 L1270.5,673.2 L1271.5,672.3 L1272.5,672.0 L1273.5,672.0 L1274.5,672.0 L1275.5,672.0 L1276.5,672.3 L1277.5,673.3 L1278.4,674.8 L1279.4,677.0 L1280.4,679.6 L1281.3,682.7 L1282.3,686.2 L1283.3,690.0 L1284.3,693.9 L1285.2,698.0 L1286.2,702.1 L1287.2,706.0 L1288.2,709.8 L1289.2,713.3 L1290.1,716.4 L1291.1,719.0 L1292.1,721.2 L1293.0,722.7 L1294.0,723.7 L1295.0,724.0 L1296.0,724.0 L1297.0,724.0 L1298.0,724.0 L1299.0,723.8 L1300.0,723.3 L1301.0,722.4 L1302.0,721.2 L1303.0,719.7 L1304.0,717.9 L1305.0,715.8 L1306.0,713.5 L1307.0,711.0 L1308.0,708.3 L1309.0,705.6 L1310.0,702.7 L1311.0,699.8 L1312.1,696.8 L1313.1,693.9 L1314.1,691.2 L1315.1,688.5 L1316.1,686.0 L1317.1,683.7 L1318.1,681.6 L1319.1,679.8 L1320.1,678.3 L1321.1,677.1 L1322.1,676.2 L1323.1,675.7 L1324.1,675.5 L1325.1,675.5 L1326.1,675.5 L1327.1,675.5 L1328.1,675.7 L1329.1,676.5 L1330.1,677.6 L1331.1,679.2 L1332.1,681.2 L1333.1,683.6 L1334.1,686.3 L1335.1,689.2 L1336.1,692.4 L1337.1,695.7 L1338.0,699.0 L1339.0,702.3 L1340.0,705.6 L1341.0,708.8 L1342.0,711.7 L1343.0,714.4 L1344.0,716.8 L1345.0,718.8 L1346.0,720.4 L1347.0,721.5 L1348.0,722.3 L1349.0,722.5 L1350.0,722.5 L1351.0,722.5 L1352.0,722.5 L1353.0,722.3 L1354.0,721.8 L1355.1,720.9 L1356.1,719.7 L1357.1,718.1 L1358.1,716.3 L1359.1,714.2 L1360.2,711.9 L1361.2,709.4 L1362.2,706.7 L1363.2,704.0 L1364.2,701.2 L1365.3,698.5 L1366.3,695.8 L1367.3,693.1 L1368.3,690.6 L1369.4,688.3 L1370.4,686.2 L1371.4,684.4 L1372.4,682.8 L1373.4,681.6 L1374.5,680.7 L1375.5,680.2 L1376.5,680.0 L1377.5,680.0 L1378.5,680.0 L1379.5,680.0 L1380.5,680.3 L1381.5,681.1 L1382.5,682.4 L1383.5,684.1 L1384.5,686.3 L1385.5,688.8 L1386.5,691.7 L1387.5,694.7 L1388.5,697.9 L1389.5,701.1 L1390.5,704.3 L1391.5,707.3 L1392.5,710.2 L1393.5,712.7 L1394.5,714.9 L1395.5,716.6 L1396.5,717.9 L1397.5,718.7 L1398.5,719.0 L1399.5,719.0 L1400.5,719.0 L1401.5,719.0 L1402.5,718.9 L1403.5,718.4 L1404.5,717.7 L1405.5,716.7 L1406.5,715.5 L1407.5,714.0 L1408.5,712.3 L1409.5,710.4 L1410.5,708.4 L1411.5,706.3 L1412.5,704.1 L1413.5,701.9 L1414.5,699.6 L1415.5,697.4 L1416.5,695.3 L1417.5,693.3 L1418.5,691.4 L1419.5,689.7 L1420.5,688.2 L1421.5,687.0 L1422.5,686.0 L1423.5,685.3 L1424.5,684.8 L1425.5,684.7 L1426.5,684.7 L1427.5,684.7 L1428.5,684.7 L1429.5,684.8 L1430.5,685.2 L1431.5,685.8 L1432.5,686.7 L1433.5,687.7 L1434.5,689.0 L1435.5,690.5 L1436.5,692.1 L1437.5,693.9 L1438.5,695.8 L1439.5,697.7 L1440.5,699.8 L1441.5,701.9 L1442.5,703.9 L1443.5,706.0 L1444.5,707.9 L1445.5,709.8 L1446.5,711.6 L1447.5,713.2 L1448.5,714.7 L1449.5,716.0 L1450.5,717.0 L1451.5,717.9 L1452.5,718.5 L1453.5,718.9 L1454.5,719.0 L1455.5,719.0 L1456.5,719.0 L1457.5,719.0 L1458.5,718.8 L1459.5,718.3 L1460.5,717.3 L1461.5,716.1 L1462.5,714.5 L1463.5,712.6 L1464.5,710.5 L1465.5,708.2 L1466.5,705.7 L1467.5,703.1 L1468.5,700.5 L1469.5,697.9 L1470.5,695.3 L1471.5,692.8 L1472.5,690.5 L1473.5,688.4 L1474.5,686.5 L1475.5,684.9 L1476.5,683.7 L1477.5,682.7 L1478.5,682.2 L1479.5,682.0 L1480.5,682.0 L1481.5,682.0 L1482.5,682.0 L1483.5,682.2 L1484.5,682.6 L1485.5,683.3 L1486.5,684.4 L1487.5,685.7 L1488.4,687.2 L1489.4,688.9 L1490.4,690.8 L1491.4,692.8 L1492.4,695.0 L1493.4,697.2 L1494.4,699.4 L1495.4,701.6 L1496.4,703.8 L1497.4,705.8 L1498.4,707.7 L1499.4,709.4 L1500.3,710.9 L1501.3,712.2 L1502.3,713.3 L1503.3,714.0 L1504.3,714.4 L1505.3,714.6 L1506.3,714.6 L1507.3,714.6 L1508.3,714.6 L1509.3,714.5 L1510.3,714.0 L1511.3,713.3 L1512.3,712.3 L1513.3,711.1 L1514.2,709.7 L1515.2,708.0 L1516.2,706.2 L1517.2,704.3 L1518.2,702.3 L1519.2,700.3 L1520.2,698.3 L1521.2,696.3 L1522.2,694.4 L1523.2,692.6 L1524.2,690.9 L1525.1,689.5 L1526.1,688.3 L1527.1,687.3 L1528.1,686.6 L1529.1,686.1 L1530.1,686.0 L1531.1,686.0 L1532.1,686.0 L1533.1,686.0 L1534.1,686.1 L1535.1,686.5 L1536.2,687.2 L1537.2,688.1 L1538.2,689.2 L1539.2,690.5 L1540.2,692.1 L1541.2,693.7 L1542.3,695.5 L1543.3,697.4 L1544.3,699.3 L1545.3,701.3 L1546.3,703.2 L1547.3,705.1 L1548.4,706.9 L1549.4,708.5 L1550.4,710.1 L1551.4,711.4 L1552.4,712.5 L1553.4,713.4 L1554.5,714.1 L1555.5,714.5 L1556.5,714.6 L1557.5,714.6 L1558.5,714.6 L1559.5,714.6 L1560.5,714.5 L1561.5,714.1 L1562.5,713.5 L1563.5,712.7 L1564.5,711.6 L1565.5,710.4 L1566.5,709.0 L1567.5,707.5 L1568.5,705.8 L1569.5,704.0 L1570.5,702.2 L1571.5,700.3 L1572.5,698.4 L1573.5,696.6 L1574.5,694.8 L1575.5,693.1 L1576.5,691.6 L1577.5,690.2 L1578.5,689.0 L1579.5,687.9 L1580.5,687.1 L1581.5,686.5 L1582.5,686.1 L1583.5,686.0 L1584.5,686.0 L1585.5,686.0 L1586.5,686.0 L1587.5,686.2 L1588.5,687.0 L1589.6,688.1 L1590.6,689.7 L1591.6,691.6 L1592.7,693.8 L1593.7,696.2 L1594.7,698.7 L1595.7,701.2 L1596.8,703.6 L1597.8,705.8 L1598.8,707.7 L1599.8,709.3 L1600.9,710.4 L1601.9,711.2 L1602.9,711.4 L1603.9,711.4 L1604.9,711.4 L1605.9,711.4 L1606.9,711.3 L1607.9,711.2 L1608.9,710.9 L1609.8,710.5 L1610.8,710.0 L1611.8,709.4 L1612.8,708.7 L1613.8,707.9 L1614.8,707.0 L1615.8,706.0 L1616.8,705.1 L1617.7,704.0 L1618.7,702.9 L1619.7,701.8 L1620.7,700.7 L1621.7,699.6 L1622.7,698.5 L1623.7,697.4 L1624.6,696.3 L1625.6,695.4 L1626.6,694.4 L1627.6,693.5 L1628.6,692.7 L1629.6,692.0 L1630.6,691.4 L1631.6,690.9 L1632.5,690.5 L1633.5,690.2 L1634.5,690.1 L1635.5,690.0 L1636.5,690.0 L1637.5,690.0 L1638.5,690.0 L1639.5,690.2 L1640.6,690.6 L1641.6,691.4 L1642.6,692.5 L1643.6,693.8 L1644.7,695.4 L1645.7,697.0 L1646.7,698.8 L1647.8,700.7 L1648.8,702.6 L1649.8,704.4 L1650.8,706.0 L1651.9,707.6 L1652.9,708.9 L1653.9,710.0 L1654.9,710.8 L1656.0,711.2 L1657.0,711.4 L1658.0,711.4 L1659.0,711.4 L1660.0,711.4 L1661.0,711.3 L1662.0,710.9 L1663.0,710.3 L1664.0,709.5 L1665.0,708.5 L1666.0,707.4 L1667.0,706.0 L1668.0,704.6 L1669.0,703.1 L1670.0,701.5 L1671.0,699.9 L1672.0,698.3 L1673.0,696.8 L1674.0,695.4 L1675.0,694.0 L1676.0,692.9 L1677.0,691.9 L1678.0,691.1 L1679.0,690.5 L1680.0,690.1 L1681.0,690.0 L1682.0,690.0 L1683.0,690.0 L1684.0,690.0 L1685.0,690.1 L1686.0,690.3 L1687.1,690.6 L1688.1,691.0 L1689.1,691.6 L1690.1,692.3 L1691.1,693.0 L1692.2,693.9 L1693.2,694.8 L1694.2,695.8 L1695.2,696.8 L1696.2,697.9 L1697.2,699.0 L1698.3,700.1 L1699.3,701.2 L1700.3,702.2 L1701.3,703.2 L1702.3,704.1 L1703.4,705.0 L1704.4,705.7 L1705.4,706.4 L1706.4,707.0 L1707.4,707.4 L1708.5,707.7 L1709.5,707.9 L1710.5,708.0 L1711.5,708.0 L1712.5,708.0 L1713.5,708.0 L1714.5,708.0 L1715.5,707.8 L1716.5,707.6 L1717.5,707.3 L1718.5,706.9 L1719.5,706.4 L1720.5,705.8 L1721.5,705.2 L1722.5,704.5 L1723.5,703.8 L1724.5,703.0 L1725.5,702.2 L1726.5,701.3 L1727.5,700.5 L1728.5,699.7 L1729.5,698.8 L1730.5,698.0 L1731.5,697.2 L1732.5,696.5 L1733.5,695.8 L1734.5,695.2 L1735.5,694.6 L1736.5,694.1 L1737.5,693.7 L1738.5,693.4 L1739.5,693.2 L1740.5,693.0 L1741.5,693.0 L1742.5,693.0 L1743.5,693.0 L1744.5,693.0 L1745.5,693.1 L1746.4,693.3 L1747.4,693.6 L1748.4,694.0 L1749.3,694.5 L1750.3,695.1 L1751.3,695.7 L1752.2,696.4 L1753.2,697.1 L1754.2,697.8 L1755.2,698.6 L1756.1,699.3 L1757.1,700.1 L1758.1,700.8 L1759.0,701.4 L1760.0,702.0" stroke="#0000ff" stroke-width="8.6" stroke-dasharray="8.6 5.63" stroke-dashoffset="0"/>
<path d="M198.0,1156.0 L202.0,607.0 L209.5,973.0 L216.0,600.0 L221.0,480.0 L227.5,356.0 L236.0,540.0 L241.0,690.0 L243.5,850.0 L254.5,943.0 L262.0,720.0 L266.0,580.0 L270.5,420.0 L273.0,330.0 L284.8,491.0 L292.0,705.0 L294.0,757.0 L306.0,981.0 L312.0,944.0 L316.0,801.0 L320.0,720.0" stroke="#00ff00" stroke-width="8.6" stroke-dasharray="22.8 5.7"/>
<path d="M320.0,720.0 L321.0,705.3 L321.9,689.1 L322.9,671.8 L323.9,653.8 L324.8,635.5 L325.8,617.3 L326.8,599.8 L327.7,583.1 L328.7,567.9 L329.6,554.5 L330.6,543.4 L331.6,534.9 L332.5,529.5 L333.5,527.6 L334.5,527.6 L335.5,527.6 L336.5,527.6 L337.5,529.4 L338.5,534.6 L339.6,543.2 L340.6,555.0 L341.6,569.8 L342.6,587.2 L343.6,606.9 L344.6,628.6 L345.7,651.6 L346.7,675.7 L347.7,700.3 L348.7,724.9 L349.7,749.0 L350.8,772.0 L351.8,793.7 L352.8,813.4 L353.8,830.8 L354.8,845.6 L355.8,857.4 L356.9,866.0 L357.9,871.2 L358.9,873.0 L359.9,873.0 L360.9,873.0 L361.9,873.0 L362.9,870.8 L363.9,864.1 L364.9,853.1 L365.9,838.3 L366.9,819.8 L367.9,798.4 L368.9,774.5 L369.9,748.7 L370.9,721.9 L371.8,694.7 L372.8,667.9 L373.8,642.1 L374.8,618.2 L375.8,596.8 L376.8,578.3 L377.8,563.5 L378.8,552.5 L379.8,545.8 L380.8,543.6 L381.8,543.6 L382.8,543.6 L383.8,543.6 L384.8,544.9 L385.8,548.8 L386.8,555.3 L387.8,564.1 L388.8,575.3 L389.8,588.5 L390.8,603.5 L391.8,620.2 L392.8,638.2 L393.8,657.1 L394.8,676.8 L395.8,696.8 L396.8,716.8 L397.8,736.5 L398.8,755.4 L399.8,773.4 L400.8,790.1 L401.8,805.1 L402.8,818.3 L403.8,829.5 L404.8,838.3 L405.8,844.8 L406.8,848.7 L407.8,850.0 L408.8,850.0 L409.8,850.0 L410.8,850.0 L411.8,848.3 L412.8,843.3 L413.7,835.1 L414.7,823.9 L415.7,809.9 L416.7,793.4 L417.7,774.9 L418.6,754.6 L419.6,733.2 L420.6,711.0 L421.6,688.5 L422.6,666.3 L423.6,644.9 L424.5,624.6 L425.5,606.1 L426.5,589.6 L427.5,575.6 L428.5,564.4 L429.4,556.2 L430.4,551.2 L431.4,549.5 L432.4,549.5 L433.4,549.5 L434.4,549.5 L435.4,550.8 L436.4,554.9 L437.4,561.5 L438.4,570.5 L439.4,581.9 L440.4,595.4 L441.4,610.7 L442.4,627.5 L443.4,645.6 L444.4,664.6 L445.4,684.1 L446.5,703.9 L447.5,723.4 L448.5,742.4 L449.5,760.5 L450.5,777.3 L451.5,792.6 L452.5,806.1 L453.5,817.5 L454.5,826.5 L455.5,833.1 L456.5,837.2 L457.5,838.5 L458.5,838.5 L459.5,838.5 L460.5,838.5 L461.5,837.1 L462.5,833.0 L463.4,826.2 L464.4,816.9 L465.4,805.3 L466.4,791.5 L467.3,776.0 L468.3,759.0 L469.3,740.8 L470.3,721.8 L471.2,702.5 L472.2,683.1 L473.2,664.1 L474.2,645.9 L475.2,628.9 L476.1,613.4 L477.1,599.6 L478.1,588.0 L479.1,578.7 L480.0,571.9 L481.0,567.8 L482.0,566.4 L483.0,566.4 L484.0,566.4 L485.0,566.4 L486.0,568.0 L487.1,572.9 L488.1,581.0 L489.1,591.9 L490.1,605.5 L491.1,621.4 L492.2,639.3 L493.2,658.6 L494.2,679.0 L495.2,699.9 L496.3,720.8 L497.3,741.2 L498.3,760.5 L499.4,778.4 L500.4,794.3 L501.4,807.9 L502.4,818.8 L503.4,826.9 L504.5,831.8 L505.5,833.4 L506.5,833.4 L507.5,833.4 L508.5,833.4 L509.5,831.9 L510.5,827.6 L511.5,820.4 L512.4,810.6 L513.4,798.4 L514.4,784.1 L515.4,767.9 L516.4,750.3 L517.4,731.6 L518.4,712.2 L519.3,692.6 L520.3,673.2 L521.3,654.5 L522.3,636.9 L523.3,620.7 L524.3,606.4 L525.3,594.2 L526.2,584.4 L527.2,577.2 L528.2,572.9 L529.2,571.4 L530.2,571.4 L531.2,571.4 L532.2,571.4 L533.2,572.7 L534.2,576.5 L535.2,582.7 L536.3,591.3 L537.3,602.1 L538.3,614.7 L539.3,629.1 L540.3,644.8 L541.3,661.6 L542.3,679.1 L543.4,696.9 L544.4,714.8 L545.4,732.3 L546.4,749.1 L547.4,764.8 L548.4,779.2 L549.4,791.8 L550.4,802.6 L551.5,811.2 L552.5,817.4 L553.5,821.2 L554.5,822.5 L555.5,822.5 L556.5,822.5 L557.5,822.5 L558.5,821.3 L559.5,817.5 L560.5,811.5 L561.6,803.1 L562.6,792.6 L563.6,780.3 L564.6,766.3 L565.6,751.0 L566.6,734.7 L567.6,717.6 L568.6,700.2 L569.7,682.9 L570.7,665.8 L571.7,649.5 L572.7,634.2 L573.7,620.2 L574.7,607.9 L575.7,597.4 L576.8,589.0 L577.8,583.0 L578.8,579.2 L579.8,578.0 L580.8,578.0 L581.8,578.0 L582.8,578.0 L583.8,579.3 L584.8,583.4 L585.9,589.9 L586.9,598.9 L587.9,610.2 L588.9,623.4 L589.9,638.2 L591.0,654.5 L592.0,671.7 L593.0,689.5 L594.0,707.5 L595.0,725.3 L596.0,742.5 L597.1,758.8 L598.1,773.6 L599.1,786.8 L600.1,798.1 L601.1,807.1 L602.2,813.6 L603.2,817.7 L604.2,819.0 L605.2,819.0 L606.2,819.0 L607.2,819.0 L608.2,817.8 L609.2,814.3 L610.1,808.5 L611.1,800.5 L612.1,790.5 L613.1,778.7 L614.0,765.4 L615.0,750.8 L616.0,735.2 L617.0,718.9 L618.0,702.3 L618.9,685.7" stroke="#00ff00" stroke-width="8.6" clip-path="url(#gh)"/>
<path d="M332.5,529.9 L332.5,529.5 L333.5,527.6 L334.5,527.6 L335.5,527.6 L336.5,527.6 L337.5,529.4 L337.6,529.8 M357.8,870.8 L357.9,871.2 L358.9,873.0 L359.9,873.0 L360.9,873.0 L361.9,873.0 L362.9,870.8 L362.9,870.7 M379.8,545.9 L379.8,545.8 L380.8,543.6 L381.8,543.6 L382.8,543.6 L383.8,543.6 L384.8,544.9 L385.0,545.7 M406.6,847.9 L406.8,848.7 L407.8,850.0 L408.8,850.0 L409.8,850.0 L410.8,850.0 L411.8,848.3 L411.9,847.8 M430.3,551.7 L430.4,551.2 L431.4,549.5 L432.4,549.5 L433.4,549.5 L434.4,549.5 L435.4,550.8 L435.6,551.6 M456.3,836.4 L456.5,837.2 L457.5,838.5 L458.5,838.5 L459.5,838.5 L460.5,838.5 L461.5,837.1 L461.7,836.3 M480.8,568.6 L481.0,567.8 L482.0,566.4 L483.0,566.4 L484.0,566.4 L485.0,566.4 L486.0,568.0 L486.1,568.6 M504.4,831.2 L504.5,831.8 L505.5,833.4 L506.5,833.4 L507.5,833.4 L508.5,833.4 L509.5,831.9 L509.6,831.2 M528.1,573.6 L528.2,572.9 L529.2,571.4 L530.2,571.4 L531.2,571.4 L532.2,571.4 L533.2,572.7 L533.4,573.5 M553.3,820.4 L553.5,821.2 L554.5,822.5 L555.5,822.5 L556.5,822.5 L557.5,822.5 L558.5,821.3 L558.7,820.4 M578.6,580.1 L578.8,579.2 L579.8,578.0 L580.8,578.0 L581.8,578.0 L582.8,578.0 L583.8,579.3 L584.0,580.1 M603.0,816.9 L603.2,817.7 L604.2,819.0 L605.2,819.0 L606.2,819.0 L607.2,819.0 L608.2,817.8 L608.4,816.9" stroke="#00ff00" stroke-width="8.6"/>
<path d="M618.9,685.7 L619.9,669.4 L620.9,653.8 L621.9,639.2 L622.8,625.9 L623.8,614.1 L624.8,604.1 L625.8,596.1 L626.7,590.3 L627.7,586.8 L628.7,585.6 L629.7,585.6 L630.7,585.6 L631.7,585.6 L632.7,586.7 L633.7,589.8 L634.7,595.0 L635.7,602.1 L636.7,611.1 L637.6,621.6 L638.6,633.6 L639.6,646.9 L640.6,661.1 L641.6,676.0 L642.6,691.4 L643.6,706.8 L644.6,722.2 L645.6,737.1 L646.6,751.3 L647.6,764.6 L648.6,776.6 L649.5,787.1 L650.5,796.1 L651.5,803.2 L652.5,808.4 L653.5,811.5 L654.5,812.6 L655.5,812.6 L656.5,812.6 L657.5,812.6 L658.5,811.6 L659.5,808.5 L660.5,803.5 L661.5,796.6 L662.5,787.9 L663.5,777.6 L664.5,766.0 L665.5,753.1 L666.5,739.3 L667.5,724.9 L668.5,710.0 L669.5,694.9 L670.5,680.0 L671.5,665.6 L672.5,651.8 L673.5,638.9 L674.5,627.3 L675.5,617.0 L676.5,608.3 L677.5,601.4 L678.5,596.4 L679.5,593.3 L680.5,592.3 L681.5,592.3 L682.5,592.3 L683.5,592.3 L684.5,593.3 L685.5,596.5 L686.5,601.6 L687.4,608.6 L688.4,617.4 L689.4,627.8 L690.4,639.5 L691.4,652.4 L692.4,666.2 L693.4,680.5 L694.4,695.1 L695.3,709.8 L696.3,724.1 L697.3,737.9 L698.3,750.8 L699.3,762.5 L700.3,772.9 L701.3,781.7 L702.2,788.7 L703.2,793.8 L704.2,797.0 L705.2,798.0 L706.2,798.0 L707.2,798.0 L708.2,798.0 L709.2,797.2 L710.2,794.8 L711.2,790.8 L712.2,785.3 L713.2,778.4 L714.2,770.2 L715.2,760.8 L716.2,750.5 L717.2,739.4 L718.2,727.6 L719.2,715.4 L720.2,703.0 L721.2,690.6 L722.2,678.4 L723.2,666.6 L724.2,655.5 L725.2,645.2 L726.2,635.8 L727.2,627.6 L728.2,620.7 L729.2,615.2 L730.2,611.2 L731.2,608.8 L732.2,608.0 L733.2,608.0 L734.2,608.0 L735.2,608.0 L736.2,608.6 L737.2,610.5 L738.2,613.7 L739.2,618.0 L740.3,623.5 L741.3,630.1 L742.3,637.5 L743.3,645.9 L744.3,654.9 L745.3,664.6 L746.3,674.7 L747.3,685.1 L748.4,695.7 L749.4,706.3 L750.4,716.7 L751.4,726.8 L752.4,736.5 L753.4,745.5 L754.4,753.9 L755.4,761.3 L756.4,767.9 L757.5,773.4 L758.5,777.7 L759.5,780.9 L760.5,782.8 L761.5,783.4 L762.5,783.4 L763.5,783.4 L764.5,783.4 L765.5,782.4 L766.5,779.5 L767.6,774.8 L768.6,768.3 L769.6,760.2 L770.6,750.8 L771.7,740.2 L772.7,728.7 L773.7,716.6 L774.8,704.2 L775.8,691.8 L776.8,679.7 L777.8,668.2 L778.9,657.6 L779.9,648.2 L780.9,640.1 L781.9,633.6 L783.0,628.9 L784.0,626.0 L785.0,625.0 L786.0,625.0 L787.0,625.0 L788.0,625.0 L789.0,625.6 L790.0,627.3 L791.0,630.2 L792.0,634.1 L793.0,639.0 L794.0,644.9 L795.0,651.6 L796.0,659.1 L797.0,667.2 L798.0,675.8 L799.0,684.7 L800.0,693.9 L801.1,703.1 L802.1,712.3 L803.1,721.2 L804.1,729.8 L805.1,737.9 L806.1,745.4 L807.1,752.1 L808.1,758.0 L809.1,762.9 L810.1,766.8 L811.1,769.7 L812.1,771.4 L813.1,772.0 L814.1,772.0 L815.1,772.0 L816.1,772.0 L817.1,771.3 L818.1,769.2 L819.1,765.7 L820.1,761.0 L821.1,755.0 L822.0,748.0 L823.0,740.0 L824.0,731.3 L825.0,722.0 L826.0,712.3 L827.0,702.4 L828.0,692.5 L829.0,682.8 L830.0,673.5 L831.0,664.8 L832.0,656.8 L832.9,649.8 L833.9,643.8 L834.9,639.1 L835.9,635.6 L836.9,633.5 L837.9,632.8 L838.9,632.8 L839.9,632.8 L840.9,632.8 L841.9,633.4 L842.9,635.1 L843.9,637.9 L844.9,641.8 L845.9,646.7 L846.8,652.4 L847.8,659.0 L848.8,666.2 L849.8,673.9 L850.8,682.0 L851.8,690.4 L852.8,698.8 L853.8,707.2 L854.8,715.3 L855.8,723.0 L856.8,730.2 L857.8,736.8 L858.7,742.5 L859.7,747.4 L860.7,751.3 L861.7,754.1 L862.7,755.8 L863.7,756.4 L864.7,756.4 L865.7,756.4 L866.7,756.4 L867.7,755.9 L868.7,754.3 L869.7,751.7 L870.7,748.1 L871.7,743.7 L872.6,738.4 L873.6,732.4 L874.6,725.8 L875.6,718.7 L876.6,711.2 L877.6,703.6 L878.6,695.8 L879.6,688.2 L880.6,680.7 L881.6,673.6 L882.6,667.0 L883.6,661.0 L884.5,655.7 L885.5,651.3 L886.5,647.7 L887.5,645.1 L888.5,643.5 L889.5,643.0 L890.5,643.0 L891.5,643.0 L892.5,643.0 L893.5,643.6 L894.5,645.5 L895.5,648.5 L896.6,652.6 L897.6,657.8 L898.6,663.9 L899.6,670.8 L900.6,678.2 L901.6,686.2 L902.6,694.4 L903.7,702.6 L904.7,710.8 L905.7,718.8 L906.7,726.2 L907.7,733.1 L908.7,739.2 L909.7,744.4 L910.8,748.5 L911.8,751.5 L912.8,753.4 L913.8,754.0 L914.8,754.0 L915.8,754.0 L916.8,754.0 L917.8,753.5 L918.8,752.0 L919.8,749.5 L920.9,746.1 L921.9,741.8 L922.9,736.7 L923.9,731.0 L924.9,724.8 L925.9,718.1 L926.9,711.1 L928.0,704.0 L929.0,696.9 L930.0,689.9 L931.0,683.2 L932.0,677.0 L933.0,671.3 L934.0,666.2 L935.0,661.9 L936.1,658.5 L937.1,656.0 L938.1,654.5 L939.1,654.0 L940.1,654.0 L941.1,654.0 L942.1,654.0 L943.1,654.5 L944.1,655.9 L945.1,658.2 L946.2,661.4 L947.2,665.4 L948.2,670.0 L949.2,675.4 L950.2,681.2 L951.2,687.4 L952.2,693.9 L953.2,700.5 L954.3,707.1 L955.3,713.6 L956.3,719.8 L957.3,725.6 L958.3,731.0 L959.3,735.6 L960.3,739.6 L961.4,742.8 L962.4,745.1 L963.4,746.5 L964.4,747.0 L965.4,747.0 L966.4,747.0 L967.4,747.0 L968.4,746.7 L969.4,745.6 L970.4,743.9 L971.4,741.6 L972.4,738.6 L973.4,735.1 L974.3,731.0 L975.3,726.6 L976.3,721.7 L977.3,716.6 L978.3,711.2 L979.3,705.8 L980.3,700.2 L981.3,694.8 L982.3,689.4 L983.3,684.3 L984.3,679.4 L985.3,675.0 L986.2,670.9 L987.2,667.4 L988.2,664.4 L989.2,662.1 L990.2,660.4 L991.2,659.3 L992.2,659.0 L993.2,659.0 L994.2,659.0 L995.2,659.0 L996.2,659.4 L997.2,660.6 L998.1,662.7 L999.1,665.5 L1000.1,668.9 L1001.1,673.0 L1002.0,677.7 L1003.0,682.8 L1004.0,688.2 L1005.0,693.9 L1006.0,699.7 L1006.9,705.5 L1007.9,711.2 L1008.9,716.6 L1009.9,721.7 L1010.8,726.4 L1011.8,730.5 L1012.8,733.9 L1013.8,736.7 L1014.7,738.8 L1015.7,740.0 L1016.7,740.4 L1017.7,740.4 L1018.7,740.4 L1019.7,740.4 L1020.7,740.0 L1021.7,739.0 L1022.7,737.2 L1023.7,734.8 L1024.7,731.8 L1025.7,728.3 L1026.7,724.2 L1027.7,719.8 L1028.7,715.0 L1029.7,710.0 L1030.7,704.8 L1031.8,699.6 L1032.8,694.4 L1033.8,689.4 L1034.8,684.6 L1035.8,680.2 L1036.8,676.1 L1037.8,672.6 L1038.8,669.6 L1039.8,667.2 L1040.8,665.4 L1041.8,664.4 L1042.8,664.0 L1043.8,664.0 L1044.8,664.0 L1045.8,664.0 L1046.8,664.3 L1047.8,665.4 L1048.8,667.1 L1049.9,669.4 L1050.9,672.3 L1051.9,675.7 L1052.9,679.6 L1053.9,683.9 L1054.9,688.4 L1055.9,693.2 L1056.9,698.0 L1058.0,702.8 L1059.0,707.6 L1060.0,712.1 L1061.0,716.4 L1062.0,720.3 L1063.0,723.7 L1064.0,726.6 L1065.1,728.9 L1066.1,730.6 L1067.1,731.7 L1068.1,732.0 L1069.1,732.0 L1070.1,732.0 L1071.1,732.0 L1072.1,731.7 L1073.1,730.9 L1074.1,729.6 L1075.1,727.7 L1076.1,725.4 L1077.1,722.6 L1078.1,719.5 L1079.1,716.0 L1080.1,712.2 L1081.1,708.3 L1082.1,704.2 L1083.1,700.0 L1084.1,695.8 L1085.1,691.7 L1086.1,687.8 L1087.1,684.0 L1088.1,680.5 L1089.1,677.4 L1090.1,674.6 L1091.1,672.3 L1092.1,670.4 L1093.1,669.1 L1094.1,668.3 L1095.1,668.0 L1096.1,668.0 L1097.1,668.0 L1098.1,668.0 L1099.1,668.3 L1100.1,669.4 L1101.2,671.0 L1102.2,673.3 L1103.2,676.2 L1104.2,679.6 L1105.2,683.4 L1106.3,687.5 L1107.3,691.9 L1108.3,696.5 L1109.3,701.0 L1110.3,705.6 L1111.3,710.0 L1112.4,714.1 L1113.4,717.9 L1114.4,721.3 L1115.4,724.2 L1116.4,726.5 L1117.5,728.1 L1118.5,729.2 L1119.5,729.5 L1120.5,729.5 L1121.5,729.5 L1122.5,729.5 L1123.5,729.3 L1124.5,728.7 L1125.6,727.6 L1126.6,726.2 L1127.6,724.4 L1128.6,722.2 L1129.6,719.8 L1130.7,717.0 L1131.7,714.0 L1132.7,710.8 L1133.7,707.5 L1134.7,704.1 L1135.8,700.6 L1136.8,697.1 L1137.8,693.7 L1138.8,690.4 L1139.8,687.2 L1140.8,684.2 L1141.9,681.4 L1142.9,679.0 L1143.9,676.8 L1144.9,675.0 L1145.9,673.6 L1147.0,672.5 L1148.0,671.9 L1149.0,671.7 L1150.0,671.7 L1151.0,671.7 L1152.0,671.7 L1153.0,672.0 L1154.0,672.8 L1155.0,674.1 L1156.0,675.9 L1157.0,678.1 L1158.1,680.8 L1159.1,683.8 L1160.1,687.2 L1161.1,690.8 L1162.1,694.5 L1163.1,698.4 L1164.1,702.3 L1165.1,706.2 L1166.1,709.9 L1167.1,713.5 L1168.1,716.9 L1169.1,719.9 L1170.2,722.6 L1171.2,724.8 L1172.2,726.6 L1173.2,727.9 L1174.2,728.7 L1175.2,729.0 L1176.2,729.0 L1177.2,729.0 L1178.2,729.0 L1179.2,728.6 L1180.2,727.5 L1181.2,725.6 L1182.3,723.0 L1183.3,719.8 L1184.3,716.1 L1185.3,711.9 L1186.3,707.5 L1187.3,702.9 L1188.4,698.1 L1189.4,693.5 L1190.4,689.1 L1191.4,684.9 L1192.4,681.2 L1193.4,678.0 L1194.5,675.4 L1195.5,673.5 L1196.5,672.4 L1197.5,672.0 L1198.5,672.0 L1199.5,672.0 L1200.5,672.0 L1201.5,672.3 L1202.5,673.3 L1203.5,674.8 L1204.5,677.0 L1205.5,679.6 L1206.5,682.7 L1207.5,686.2 L1208.5,690.1 L1209.5,694.2 L1210.5,698.4 L1211.5,702.6 L1212.5,706.8 L1213.5,710.9 L1214.5,714.8 L1215.5,718.3 L1216.5,721.4 L1217.5,724.0 L1218.5,726.2 L1219.5,727.7 L1220.5,728.7 L1221.5,729.0 L1222.5,729.0 L1223.5,729.0 L1224.5,729.0 L1225.5,728.8 L1226.5,728.2 L1227.5,727.3 L1228.5,726.0 L1229.5,724.3 L1230.5,722.3 L1231.5,720.1 L1232.5,717.5 L1233.5,714.8 L1234.5,711.8 L1235.5,708.7 L1236.5,705.4 L1237.5,702.2 L1238.5,698.8 L1239.5,695.6 L1240.5,692.3 L1241.5,689.2 L1242.5,686.2 L1243.5,683.5 L1244.5,680.9 L1245.5,678.7 L1246.5,676.7 L1247.5,675.0 L1248.5,673.7 L1249.5,672.8 L1250.5,672.2 L1251.5,672.0 L1252.5,672.0 L1253.5,672.0 L1254.5,672.0 L1255.5,672.2 L1256.5,672.6 L1257.5,673.4 L1258.5,674.4 L1259.5,675.8 L1260.5,677.4 L1261.5,679.2 L1262.5,681.3 L1263.5,683.5 L1264.5,685.9 L1265.5,688.4 L1266.5,691.0 L1267.5,693.7 L1268.5,696.3 L1269.5,699.0 L1270.5,701.6 L1271.5,704.1 L1272.5,706.5 L1273.5,708.7 L1274.5,710.8 L1275.5,712.6 L1276.5,714.2 L1277.5,715.6 L1278.5,716.6 L1279.5,717.4 L1280.5,717.8 L1281.5,718.0 L1282.5,718.0 L1283.5,718.0 L1284.5,718.0 L1285.5,717.9 L1286.5,717.7 L1287.5,717.2 L1288.6,716.6 L1289.6,715.9 L1290.6,714.9 L1291.6,713.9 L1292.6,712.7 L1293.6,711.4 L1294.6,710.0 L1295.6,708.5 L1296.7,706.9 L1297.7,705.3 L1298.7,703.7 L1299.7,702.0 L1300.7,700.3 L1301.7,698.7 L1302.7,697.1 L1303.8,695.5 L1304.8,694.0 L1305.8,692.6 L1306.8,691.3 L1307.8,690.1 L1308.8,689.1 L1309.8,688.1 L1310.8,687.4 L1311.9,686.8 L1312.9,686.3 L1313.9,686.1 L1314.9,686.0 L1315.9,686.0 L1316.9,686.0 L1317.9,686.0 L1318.9,686.1 L1319.9,686.4 L1320.9,687.0 L1321.8,687.7 L1322.8,688.6 L1323.8,689.7 L1324.8,690.9 L1325.8,692.2 L1326.8,693.7 L1327.7,695.3 L1328.7,696.9 L1329.7,698.5 L1330.7,700.1 L1331.7,701.7 L1332.7,703.3 L1333.6,704.8 L1334.6,706.1 L1335.6,707.3 L1336.6,708.4 L1337.6,709.3 L1338.5,710.0 L1339.5,710.6 L1340.5,710.9 L1341.5,711.0 L1342.5,711.0 L1343.5,711.0 L1344.5,711.0 L1345.5,710.9 L1346.5,710.8 L1347.5,710.5 L1348.5,710.0 L1349.5,709.5 L1350.5,708.9 L1351.5,708.2 L1352.5,707.4 L1353.5,706.5 L1354.5,705.6 L1355.5,704.6 L1356.5,703.6 L1357.5,702.5 L1358.5,701.5 L1359.5,700.4 L1360.5,699.4 L1361.5,698.4 L1362.5,697.5 L1363.5,696.6 L1364.5,695.8 L1365.5,695.1 L1366.5,694.5 L1367.5,694.0 L1368.5,693.5 L1369.5,693.2 L1370.5,693.1 L1371.5,693.0 L1372.5,693.0 L1373.5,693.0 L1374.5,693.0 L1375.5,693.0 L1376.5,693.1 L1377.5,693.2 L1378.5,693.4 L1379.4,693.6 L1380.4,693.8 L1381.4,694.1 L1382.4,694.4 L1383.4,694.7 L1384.4,695.1 L1385.4,695.5 L1386.4,695.9 L1387.3,696.4 L1388.3,696.8 L1389.3,697.3 L1390.3,697.8 L1391.3,698.2 L1392.3,698.7 L1393.3,699.2 L1394.3,699.7 L1395.3,700.1 L1396.2,700.6 L1397.2,701.0 L1398.2,701.4 L1399.2,701.8 L1400.2,702.1 L1401.2,702.4 L1402.2,702.7 L1403.2,702.9 L1404.1,703.1 L1405.1,703.3 L1406.1,703.4 L1407.1,703.5 L1408.1,703.5 L1409.1,703.5 L1410.1,703.5 L1411.1,703.5 L1412.1,703.5 L1413.1,703.4 L1414.2,703.2 L1415.2,703.0 L1416.2,702.8 L1417.2,702.5 L1418.2,702.1 L1419.2,701.7 L1420.3,701.3 L1421.3,700.9 L1422.3,700.5 L1423.3,700.0 L1424.3,699.6 L1425.3,699.2 L1426.4,698.8 L1427.4,698.4 L1428.4,698.0 L1429.4,697.7 L1430.4,697.5 L1431.4,697.3 L1432.5,697.1 L1433.5,697.0 L1434.5,697.0 L1435.5,697.0 L1436.5,697.0 L1437.5,697.0 L1438.5,697.0 L1439.5,697.1 L1440.5,697.2 L1441.5,697.3 L1442.5,697.5 L1443.5,697.7 L1444.5,697.9 L1445.5,698.2 L1446.5,698.5 L1447.5,698.8 L1448.5,699.1 L1449.5,699.5 L1450.5,699.8 L1451.5,700.2 L1452.5,700.5 L1453.5,700.9 L1454.5,701.2 L1455.5,701.5 L1456.5,701.8 L1457.5,702.1 L1458.5,702.3 L1459.5,702.5 L1460.5,702.7 L1461.5,702.8 L1462.5,702.9 L1463.5,703.0 L1464.5,703.0 L1465.5,703.0 L1466.5,703.0 L1467.5,703.0 L1468.5,703.0 L1469.5,702.9 L1470.5,702.8 L1471.5,702.6 L1472.5,702.4 L1473.5,702.2 L1474.5,701.9 L1475.5,701.6 L1476.5,701.2 L1477.5,700.9 L1478.5,700.5 L1479.5,700.1 L1480.5,699.7 L1481.5,699.3 L1482.5,698.9 L1483.5,698.5 L1484.5,698.1 L1485.5,697.8 L1486.5,697.4 L1487.5,697.1 L1488.5,696.8 L1489.5,696.6 L1490.5,696.4 L1491.5,696.2 L1492.5,696.1 L1493.5,696.0 L1494.5,696.0 L1495.5,696.0 L1496.5,696.0 L1497.5,696.0 L1498.5,696.0 L1499.5,696.1 L1500.6,696.2 L1501.6,696.3 L1502.6,696.4 L1503.6,696.6 L1504.7,696.8 L1505.7,697.0 L1506.7,697.2 L1507.7,697.5 L1508.8,697.7 L1509.8,698.0 L1510.8,698.3 L1511.8,698.5 L1512.8,698.8 L1513.9,699.1 L1514.9,699.4 L1515.9,699.6 L1516.9,699.9 L1518.0,700.1 L1519.0,700.4 L1520.0,700.6 L1760.0,700.6" stroke="#00ff00" stroke-width="8.6" stroke-dasharray="22.8 5.7" stroke-dashoffset="0"/>
<path d="M195.3,701.0 L198.7,1129.0 L202.3,639.6 L213.4,945.0 L216.8,542.0 L228.0,387.0 L232.8,501.0 L239.0,582.6 L244.0,701.0 L249.0,904.0 L255.0,831.0 L260.3,937.0 L264.3,850.0 L267.4,725.0 L271.5,460.0 L273.6,312.0 L279.7,501.0 L287.8,623.0 L292.0,701.0 L295.2,969.0 L317.4,473.5 L332.6,701.0 L339.3,905.0 L340.3,901.5 L341.2,891.7 L342.2,876.8 L343.2,857.7 L344.1,835.8 L345.1,811.9 L346.1,787.3 L347.1,763.1 L348.0,740.2 L349.0,720.0 L350.0,699.0 L351.0,675.5 L352.1,650.3 L353.1,624.3 L354.1,598.3 L355.1,573.1 L356.1,549.5 L357.1,528.3 L358.1,510.4 L359.2,496.6 L360.2,487.7 L361.2,484.6 L362.3,513.6 L363.4,579.8 L364.5,652.3 L365.6,700.0 L366.6,722.8 L367.7,744.5 L368.7,764.8 L369.7,783.8 L370.8,801.3 L371.8,817.2 L372.8,831.3 L373.8,843.5 L374.9,853.8 L375.9,862.1 L376.9,868.1 L378.0,871.7 L379.0,873.0 L380.0,865.6 L381.0,846.0 L382.0,818.1 L383.0,785.6 L384.0,752.6 L385.0,722.8 L386.0,700.0 L387.1,680.7 L388.1,661.0 L389.1,641.4 L390.2,622.5 L391.2,604.9 L392.3,589.1 L393.4,575.9 L394.4,565.7 L395.4,559.1 L396.5,556.8 L397.5,556.8 L398.5,556.8 L399.5,559.7 L400.5,568.1 L401.5,581.8 L402.4,600.2 L403.4,622.3 L404.4,647.4 L405.4,674.2 L406.4,701.6 L407.4,728.4 L408.4,753.4 L409.4,775.6 L410.3,794.0 L411.3,807.7 L412.3,816.1 L413.3,819.0 L414.3,819.0 L415.3,819.0 L416.3,817.2 L417.3,811.7 L418.2,802.9 L419.2,790.9 L420.2,776.2 L421.2,759.3 L422.1,740.7 L423.1,721.2 L424.1,701.3 L425.1,681.8 L426.0,663.2 L427.0,646.3 L428.0,631.6 L429.0,619.6 L429.9,610.8 L430.9,605.3 L431.9,603.5 L432.9,603.5 L433.9,603.5 L434.9,604.7 L435.9,608.3 L436.9,614.1 L437.9,622.1 L438.9,631.9 L439.9,643.4 L440.9,656.2 L441.9,669.9 L442.9,684.2 L444.0,698.8 L445.0,713.1 L446.0,726.8 L447.0,739.6 L448.0,751.1 L449.0,760.9 L450.0,768.9 L451.0,774.7 L452.0,778.3 L453.0,779.5 L454.0,779.5 L455.0,779.5 L456.0,778.2 L457.0,774.5 L458.0,768.5 L459.0,760.3 L460.0,750.2 L461.0,738.6 L462.0,725.9 L463.0,712.6 L464.0,698.9 L465.0,685.6 L466.0,672.9 L467.0,661.3 L468.0,651.2 L469.0,643.0 L470.0,637.0 L471.0,633.3 L472.0,632.0 L473.0,632.0 L474.0,632.0 L475.0,633.3 L476.0,637.3 L477.0,643.6 L478.1,652.2 L479.1,662.5 L480.1,674.1 L481.1,686.6 L482.1,699.4 L483.1,711.9 L484.1,723.5 L485.1,733.8 L486.2,742.4 L487.2,748.7 L488.2,752.7 L489.2,754.0 L490.2,754.0 L491.2,754.0 L492.2,753.3 L493.2,751.1 L494.2,747.5 L495.2,742.7 L496.3,736.7 L497.3,729.8 L498.3,722.1 L499.3,713.9 L500.3,705.5 L501.3,697.1 L502.3,688.9 L503.3,681.2 L504.3,674.3 L505.4,668.3 L506.4,663.5 L507.4,659.9 L508.4,657.7 L509.4,657.0 L510.4,657.0 L511.4,657.0 L512.4,657.7 L513.4,659.7 L514.5,662.9 L515.5,667.3 L516.5,672.6 L517.5,678.8 L518.6,685.5 L519.6,692.7 L520.6,699.9 L521.6,707.1 L522.7,713.8 L523.7,720.0 L524.7,725.3 L525.7,729.7 L526.8,732.9 L527.8,734.9 L528.8,735.6 L529.8,735.6 L530.8,735.6 L531.8,735.1 L532.8,733.8 L533.8,731.5 L534.8,728.4 L535.9,724.6 L536.9,720.2 L537.9,715.3 L538.9,709.9 L539.9,704.4 L540.9,698.8 L541.9,693.3 L542.9,687.9 L543.9,683.0 L544.9,678.6 L546.0,674.8 L547.0,671.7 L548.0,669.4 L549.0,668.1 L550.0,667.6 L551.0,667.6 L552.0,667.6 L553.0,668.2 L554.1,669.8 L555.1,672.5 L556.1,676.1 L557.2,680.5 L558.2,685.5 L559.2,690.9 L560.2,696.5 L561.3,702.2 L562.3,707.6 L563.3,712.6 L564.4,717.0 L565.4,720.6 L566.4,723.3 L567.5,724.9 L568.5,725.5 L569.5,725.5 L570.5,725.5 L571.5,725.0 L572.6,723.7 L573.6,721.5 L574.6,718.5 L575.7,714.9 L576.7,710.8 L577.7,706.4 L578.8,701.8 L579.8,697.1 L580.8,692.7 L581.8,688.6 L582.9,685.0 L583.9,682.0 L584.9,679.8 L586.0,678.5 L587.0,678.0 L588.0,678.0 L589.0,678.0 L590.0,678.3 L591.0,679.0 L591.9,680.3 L592.9,681.9 L593.9,683.9 L594.9,686.2 L595.9,688.8 L596.9,691.5 L597.8,694.5 L598.8,697.5 L599.8,700.7 L600.8,703.8 L601.8,706.9 L602.8,709.9 L603.7,712.8 L604.7,715.5 L605.7,718.0 L625.0,686.0 L629.0,686.0 L642.9,707.0 L646.9,707.0 L662.0,691.3 L666.0,691.3 L682.2,707.0 L686.2,707.0 L700.2,694.0 L704.2,694.0 L718.2,707.0 L722.2,707.0 L736.2,697.0 L740.2,697.0 L758.7,703.5 L762.7,703.5 L776.7,697.4 L780.7,697.4 L797.0,703.5 L801.0,703.5 L815.0,697.4 L819.0,697.4 L828.0,700.6 L850.0,700.6 L856.5,697.4 L860.5,697.4 L866.0,700.6 L1760.0,700.6" stroke="#ff0000" stroke-width="8.6"/>
</g>
<rect x="1754" y="697" width="4" height="8" fill="#0000ff" shape-rendering="crispEdges"/>
<g font-family="'Liberation Sans', Arial, Helvetica, sans-serif" font-size="47" fill="#000">
<text transform="translate(346.9,1332.7) scale(1,1.05)" text-anchor="middle">0.5</text>
<text transform="translate(504.7,1332.7) scale(1,1.05)" text-anchor="middle">1</text>
<text transform="translate(660.2,1332.7) scale(1,1.05)" text-anchor="middle">1.5</text>
<text transform="translate(819.8,1332.7) scale(1,1.05)" text-anchor="middle">2</text>
<text transform="translate(972.4,1332.7) scale(1,1.05)" text-anchor="middle">2.5</text>
<text transform="translate(1133.8,1332.7) scale(1,1.05)" text-anchor="middle">3</text>
<text transform="translate(1285.7,1332.7) scale(1,1.05)" text-anchor="middle">3.5</text>
<text transform="translate(1445.5,1332.7) scale(1,1.05)" text-anchor="middle">4</text>
<text transform="translate(1598.5,1332.7) scale(1,1.05)" text-anchor="middle">4.5</text>
<text transform="translate(1759.0,1332.7) scale(1,1.05)" text-anchor="middle">5</text>
<text transform="translate(183.5,1292.1) scale(1,1.05)" text-anchor="end">-20</text>
<text transform="translate(183.5,1126.0) scale(1,1.05)" text-anchor="end">0</text>
<text transform="translate(183.5,961.5) scale(1,1.05)" text-anchor="end">20</text>
<text transform="translate(183.5,799.1) scale(1,1.05)" text-anchor="end">40</text>
<text transform="translate(183.5,632.0) scale(1,1.05)" text-anchor="end">60</text>
<text transform="translate(183.5,470.3) scale(1,1.05)" text-anchor="end">80</text>
<text transform="translate(183.5,304.5) scale(1,1.05)" text-anchor="end">100</text>
<text transform="translate(183.5,139.0) scale(1,1.05)" text-anchor="end">120</text>
<text transform="translate(973.5,1392.4) scale(1,1.05)" text-anchor="middle">time(s)</text>
<text transform="translate(67.0,664.7) rotate(-90) scale(1,1.05)" text-anchor="middle">Speed(r/s)</text>
<text transform="translate(1260.5,128.0) scale(1,1.05)" text-anchor="start">set point</text>
<text transform="translate(1260.5,196.8) scale(1,1.05)" text-anchor="start">MSE based control</text>
<text transform="translate(1260.5,265.2) scale(1,1.05)" text-anchor="start">Entropy based control</text>
<text transform="translate(1260.5,332.0) scale(1,1.05)" text-anchor="start">SIP based control</text>
</g>
<g shape-rendering="crispEdges">
<rect x="1072.5" y="70.5" width="666.5" height="287.5" fill="none" stroke="#000" stroke-width="1"/>
<line x1="1739" y1="70" x2="1739" y2="358.5" stroke="#000" stroke-width="2"/>
<line x1="1101" y1="109.5" x2="1175" y2="109.5" stroke="#000" stroke-width="1"/>
<line x1="1222" y1="109.5" x2="1247" y2="109.5" stroke="#000" stroke-width="1"/>
<line x1="1102" y1="178" x2="1247" y2="178" stroke="#0000ff" stroke-width="8" stroke-dasharray="8.3 6.11"/>
<line x1="1102" y1="247" x2="1247" y2="247" stroke="#00ff00" stroke-width="8" stroke-dasharray="22.7 6.12"/>
<line x1="1102" y1="315" x2="1247" y2="315" stroke="#ff0000" stroke-width="8"/>
</g>
</svg>
</body></html>
